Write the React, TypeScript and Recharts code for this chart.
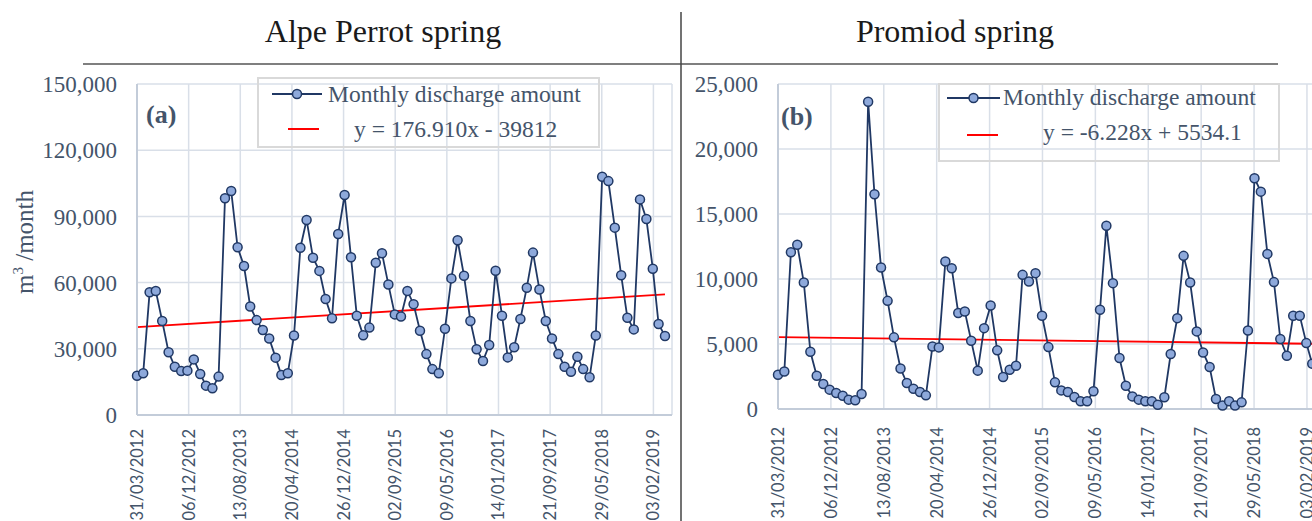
import { CartesianGrid, Legend, Line, LineChart, ReferenceLine, XAxis, YAxis } from "recharts"

// monthly series, March 2012 .. March 2019
const startYear = 2012
const startMonth = 3
const monthCount = 85

const tickDays = [0, 250, 500, 750, 1000, 1250, 1500, 1750, 2000, 2250, 2500]
const tickLabels = [
  "31/03/2012",
  "06/12/2012",
  "13/08/2013",
  "20/04/2014",
  "26/12/2014",
  "02/09/2015",
  "09/05/2016",
  "14/01/2017",
  "21/09/2017",
  "29/05/2018",
  "03/02/2019",
]

const alpeTicks = [0, 30000, 60000, 90000, 120000, 150000]
const promiodTicks = [0, 5000, 10000, 15000, 20000, 25000]

const alpePerrot = [
  17800, 18900, 55600, 56200, 42600, 28400, 21900, 19900, 20100, 25200,
  18600, 13300, 12100, 17400, 98200, 101500, 76000, 67500, 49200, 43000,
  38500, 34700, 26000, 18100, 18900, 36000, 75800, 88400, 71300, 65300,
  52600, 43800, 82000, 99700, 71500, 45000, 36100, 39600, 69000, 73300,
  59100, 45600, 44600, 56200, 50200, 38200, 27600, 20800, 18900, 39100,
  61900, 79200, 63100, 42600, 29800, 24500, 31700, 65400, 45000, 26100,
  30700, 43500, 57700, 73600, 56900, 42600, 34700, 27600, 21900, 19600,
  26400, 20800, 17100, 36000, 108000, 106000, 84900, 63300, 44100, 38800,
  97700, 88800, 66300, 41200, 35800,
]

const promiod = [
  2640, 2890, 12060, 12630, 9730, 4400, 2560, 1920, 1490, 1230,
  1020, 720, 670, 1150, 23640, 16520, 10880, 8320, 5510, 3120,
  2000, 1560, 1310, 1050, 4810, 4740, 11350, 10830, 7380, 7500,
  5250, 2950, 6220, 7960, 4510, 2460, 3020, 3330, 10320, 9810,
  10450, 7170, 4760, 2050, 1430, 1310, 920, 590, 590, 1360,
  7630, 14090, 9680, 3920, 1790, 970, 720, 590, 590, 330,
  900, 4230, 6990, 11780, 9730, 5970, 4350, 3230, 770, 260,
  590, 260, 510, 6040, 17750, 16720, 11930, 9760, 5380, 4100,
  7170, 7170, 5070, 3480, 2700,
]

// linear trend, start and end values
const alpeTrend = [39812, 54672]
const promiodTrend = [5534.1, 5011]

const seriesName = "Monthly discharge amount"
const alpeEquation = "y = 176.910x - 39812"
const promiodEquation = "y = -6.228x + 5534.1"

const DAY = 86400000
const origin = Date.UTC(startYear, startMonth - 1, 31)
const monthDays = Array.from({ length: monthCount }, (_, i) =>
  Math.round((Date.UTC(startYear, startMonth + i, 0) - origin) / DAY)
)
const lastDay = monthDays[monthDays.length - 1]

const alpeData = monthDays.map((day, i) => ({ day, value: alpePerrot[i] }))
const promiodData = monthDays.map((day, i) => ({ day, value: promiod[i] }))

const SERIF = "'Liberation Serif', 'Times New Roman', serif"
const TEXT = "#44546A"
const NAVY = "#203864"
const GRID = "#D9DFE8"
const AXIS = "#C3CCD9"

function DateTick(props: any) {
  const { x, y, payload, gap } = props
  const idx = tickDays.indexOf(payload.value)
  return (
    <text
      transform={`translate(${x},${y + gap}) rotate(-90)`}
      textAnchor="end"
      dominantBaseline="central"
      fill={TEXT}
      fontFamily="Lato, 'Open Sans', sans-serif"
      fontSize={16.5}
    >
      {tickLabels[idx]}
    </text>
  )
}

function LegendBox(props: any) {
  const { w, h, row1, row2, equation } = props
  return (
    <svg width={w} height={h} style={{ display: "block" }}>
      <rect x={1} y={1} width={w - 2} height={h - 2} fill="none" stroke="#D9D9D9" strokeWidth={2} />
      <line x1={row1.x1} x2={row1.x2} y1={row1.y} y2={row1.y} stroke={NAVY} strokeWidth={2} />
      <circle cx={(row1.x1 + row1.x2) / 2} cy={row1.y} r={4.5} fill="#8EA9DB" stroke={NAVY} strokeWidth={1.5} />
      <text x={row1.tx} y={row1.ty} fill={TEXT} fontFamily={SERIF} fontSize={23.5}>
        {seriesName}
      </text>
      <line x1={row2.x1} x2={row2.x2} y1={row2.y} y2={row2.y} stroke="#FF0000" strokeWidth={2} />
      <text x={row2.tx} y={row2.ty} fill={TEXT} fontFamily={SERIF} fontSize={23.5}>
        {equation}
      </text>
    </svg>
  )
}

const fmt = (v: number) => v.toLocaleString("en-US")

export default function App() {
  return (
    <div
      style={{
        position: "absolute",
        left: 0,
        top: 0,
        width: 1312,
        height: 521,
        overflow: "hidden",
        background: "#fff",
      }}
    >
      <div style={{ position: "absolute", left: 0, top: 0 }}>
        <LineChart width={680} height={521} data={alpeData} margin={{ top: 84, right: 8, bottom: 0, left: 0 }}>
          <CartesianGrid stroke={GRID} strokeWidth={1.5} />
          <XAxis
            dataKey="day"
            type="number"
            domain={[0, 2590]}
            ticks={tickDays}
            tick={<DateTick gap={12} />}
            tickLine={false}
            tickSize={0}
            axisLine={{ stroke: AXIS, strokeWidth: 2 }}
            height={106}
          />
          <YAxis
            domain={[0, 150000]}
            ticks={alpeTicks}
            tickFormatter={fmt}
            tick={{ fill: TEXT, fontSize: 23, fontFamily: SERIF }}
            tickLine={false}
            tickSize={0}
            tickMargin={20}
            axisLine={{ stroke: AXIS, strokeWidth: 2 }}
            width={137}
          />
          <ReferenceLine
            segment={[
              { x: 0, y: alpeTrend[0] },
              { x: lastDay, y: alpeTrend[1] },
            ]}
            stroke="#FF0000"
            strokeWidth={1.8}
            ifOverflow="visible"
          />
          <Line
            dataKey="value"
            stroke={NAVY}
            strokeWidth={1.8}
            dot={{ r: 4.5, fill: "#8EA9DB", stroke: NAVY, strokeWidth: 1.5 }}
            isAnimationActive={false}
          />
          <Legend
            verticalAlign="middle"
            align="center"
            layout="horizontal"
            wrapperStyle={{ left: 257, top: 77, width: 343, height: 71 }}
            content={
              <LegendBox
                w={343}
                h={71}
                equation={alpeEquation}
                row1={{ x1: 15, x2: 65, y: 17, tx: 71, ty: 25 }}
                row2={{ x1: 31, x2: 62, y: 52, tx: 97, ty: 60 }}
              />
            }
          />
        </LineChart>
      </div>

      <div style={{ position: "absolute", left: 681, top: 0 }}>
        <LineChart width={645} height={521} data={promiodData} margin={{ top: 84, right: 0, bottom: 0, left: 0 }}>
          <CartesianGrid stroke={GRID} strokeWidth={1.5} />
          <XAxis
            dataKey="day"
            type="number"
            domain={[0, 2590]}
            ticks={tickDays}
            tick={<DateTick gap={16} />}
            tickLine={false}
            tickSize={0}
            axisLine={{ stroke: AXIS, strokeWidth: 2 }}
            height={112}
          />
          <YAxis
            domain={[0, 25000]}
            ticks={promiodTicks}
            tickFormatter={fmt}
            tick={{ fill: TEXT, fontSize: 23, fontFamily: SERIF }}
            tickLine={false}
            tickSize={0}
            tickMargin={20}
            axisLine={{ stroke: AXIS, strokeWidth: 2 }}
            width={97}
          />
          <ReferenceLine
            segment={[
              { x: 0, y: promiodTrend[0] },
              { x: lastDay, y: promiodTrend[1] },
            ]}
            stroke="#FF0000"
            strokeWidth={1.8}
            ifOverflow="visible"
          />
          <Line
            dataKey="value"
            stroke={NAVY}
            strokeWidth={1.8}
            dot={{ r: 4.5, fill: "#8EA9DB", stroke: NAVY, strokeWidth: 1.5 }}
            isAnimationActive={false}
          />
          <Legend
            verticalAlign="middle"
            align="center"
            layout="horizontal"
            wrapperStyle={{ left: 257, top: 83, width: 342, height: 79 }}
            content={
              <LegendBox
                w={342}
                h={79}
                equation={promiodEquation}
                row1={{ x1: 9, x2: 62, y: 15, tx: 65, ty: 22 }}
                row2={{ x1: 29, x2: 60, y: 52, tx: 105, ty: 57 }}
              />
            }
          />
        </LineChart>
      </div>

      <svg width={1312} height={521} style={{ position: "absolute", left: 0, top: 0, pointerEvents: "none" }}>
        <line x1={83} x2={1278} y1={64} y2={64} stroke="#555" strokeWidth={1.5} />
        <line x1={681} x2={681} y1={12} y2={521} stroke="#444" strokeWidth={1.5} />
        <text x={383} y={42} textAnchor="middle" fontFamily={SERIF} fontSize={32} fill="#1a1a1a">
          Alpe Perrot spring
        </text>
        <text x={955} y={42} textAnchor="middle" fontFamily={SERIF} fontSize={32} fill="#1a1a1a">
          Promiod spring
        </text>
        <text x={146} y={123} fontFamily={SERIF} fontSize={26} fontWeight="bold" fill={TEXT}>
          (a)
        </text>
        <text x={781} y={125} fontFamily={SERIF} fontSize={26} fontWeight="bold" fill={TEXT}>
          (b)
        </text>
        <text transform="translate(33,242) rotate(-90)" textAnchor="middle" fontFamily={SERIF} fontSize={25} fill={TEXT}>
          m<tspan fontSize={15} dy={-10}>3</tspan>
          <tspan dy={10}> /month</tspan>
        </text>
      </svg>
    </div>
  )
}
